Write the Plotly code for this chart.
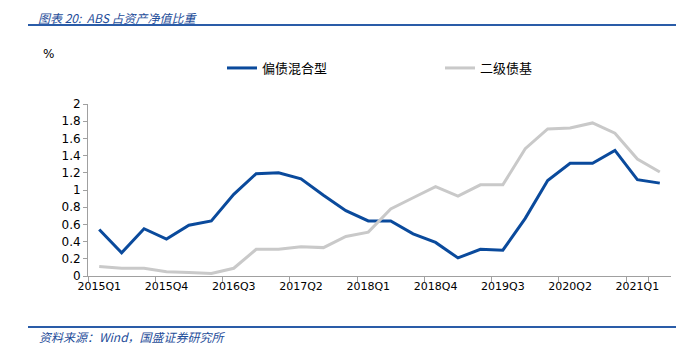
import plotly.graph_objects as go

categories = [f"{y}Q{q}" for y in range(2015, 2022) for q in range(1, 5)][:26]
series_names = ["偏债混合型", "二级债基"]
mixed_bond = [0.54, 0.27, 0.55, 0.43, 0.59, 0.64, 0.95, 1.19, 1.20, 1.13,
              0.94, 0.76, 0.64, 0.64, 0.49, 0.39, 0.21, 0.31, 0.30, 0.67,
              1.11, 1.31, 1.31, 1.46, 1.12, 1.08]
secondary_bond = [0.11, 0.09, 0.09, 0.05, 0.04, 0.03, 0.09, 0.31, 0.31, 0.34,
                  0.33, 0.46, 0.51, 0.78, 0.91, 1.04, 0.93, 1.06, 1.06, 1.48,
                  1.71, 1.72, 1.78, 1.66, 1.36, 1.21]
tick_labels = categories[::3]
title_text = "图表 20:  ABS 占资产净值比重"
source_text = "资料来源：Wind，国盛证券研究所"

# page body has an 8px default margin; work in screen pixels and shift
OFF = 8
W, H = 684 - OFF, 356 - OFF
L, R, T, B = 88 - OFF, 13, 104 - OFF, 80
PW, PH = W - L - R, H - T - B

def px(x):
    return (x - OFF - L) / PW

def py(y):
    return (H - B - (y - OFF)) / PH

BLUE = "#0A4A9C"
GRAY = "#C9C9C9"
TEXTBLUE = "#1F4E9A"

fig = go.Figure()
fig.add_trace(go.Scatter(x=categories, y=mixed_bond, name=series_names[0], mode="lines",
                         line=dict(color=BLUE, width=3)))
fig.add_trace(go.Scatter(x=categories, y=secondary_bond, name=series_names[1], mode="lines",
                         line=dict(color=GRAY, width=3)))

fig.update_layout(
    width=W, height=H, autosize=False,
    margin=dict(l=L, r=R, t=T, b=B, autoexpand=False),
    paper_bgcolor="white", plot_bgcolor="white",
    font=dict(family="DejaVu Sans, Verdana, sans-serif", size=11, color="#000000"),
    showlegend=True,
    legend=dict(orientation="h", x=px(222), y=py(68), xanchor="left", yanchor="middle",
                font=dict(family="Noto Sans CJK SC", size=13, color="#000"),
                entrywidth=173, entrywidthmode="pixels", bgcolor="rgba(0,0,0,0)"),
    xaxis=dict(type="category", categoryorder="array", categoryarray=categories,
               tickmode="array", tickvals=tick_labels, ticktext=tick_labels,
               tickangle=0, automargin=False,
               tickson="boundaries", ticks="outside", ticklen=5, tickcolor="#A0A0A0",
               showline=True, linecolor="#A0A0A0", linewidth=1, showgrid=False,
               zeroline=False, range=[-0.5, len(categories) - 0.5]),
    yaxis=dict(range=[0, 2], dtick=0.2, tick0=0, ticks="outside", ticklen=4,
               automargin=False,
               tickcolor="#A0A0A0", showline=True, linecolor="#A0A0A0", linewidth=1,
               showgrid=False, zeroline=False, tickfont=dict(size=12)),
)

fig.add_annotation(text=title_text, xref="paper", yref="paper", x=px(37), y=py(8),
                   xanchor="left", yanchor="top", showarrow=False, borderpad=0,
                   font=dict(family="Noto Sans CJK SC", size=12, color=TEXTBLUE, style="italic"))
fig.add_annotation(text=source_text, xref="paper", yref="paper", x=px(37), y=py(336),
                   xanchor="left", yanchor="middle", showarrow=False,
                   font=dict(family="Noto Sans CJK SC", size=12, color=TEXTBLUE, style="italic"))
fig.add_annotation(text="%", xref="paper", yref="paper", x=px(41), y=py(54),
                   xanchor="left", yanchor="middle", showarrow=False,
                   font=dict(family="DejaVu Sans", size=12, color="#000"))
for yy in (25, 327):
    fig.add_shape(type="line", xref="paper", yref="paper", x0=px(28), x1=px(684),
                  y0=py(yy), y1=py(yy), line=dict(color="#2A5CA8", width=2))

fig.write_html("out.html")
